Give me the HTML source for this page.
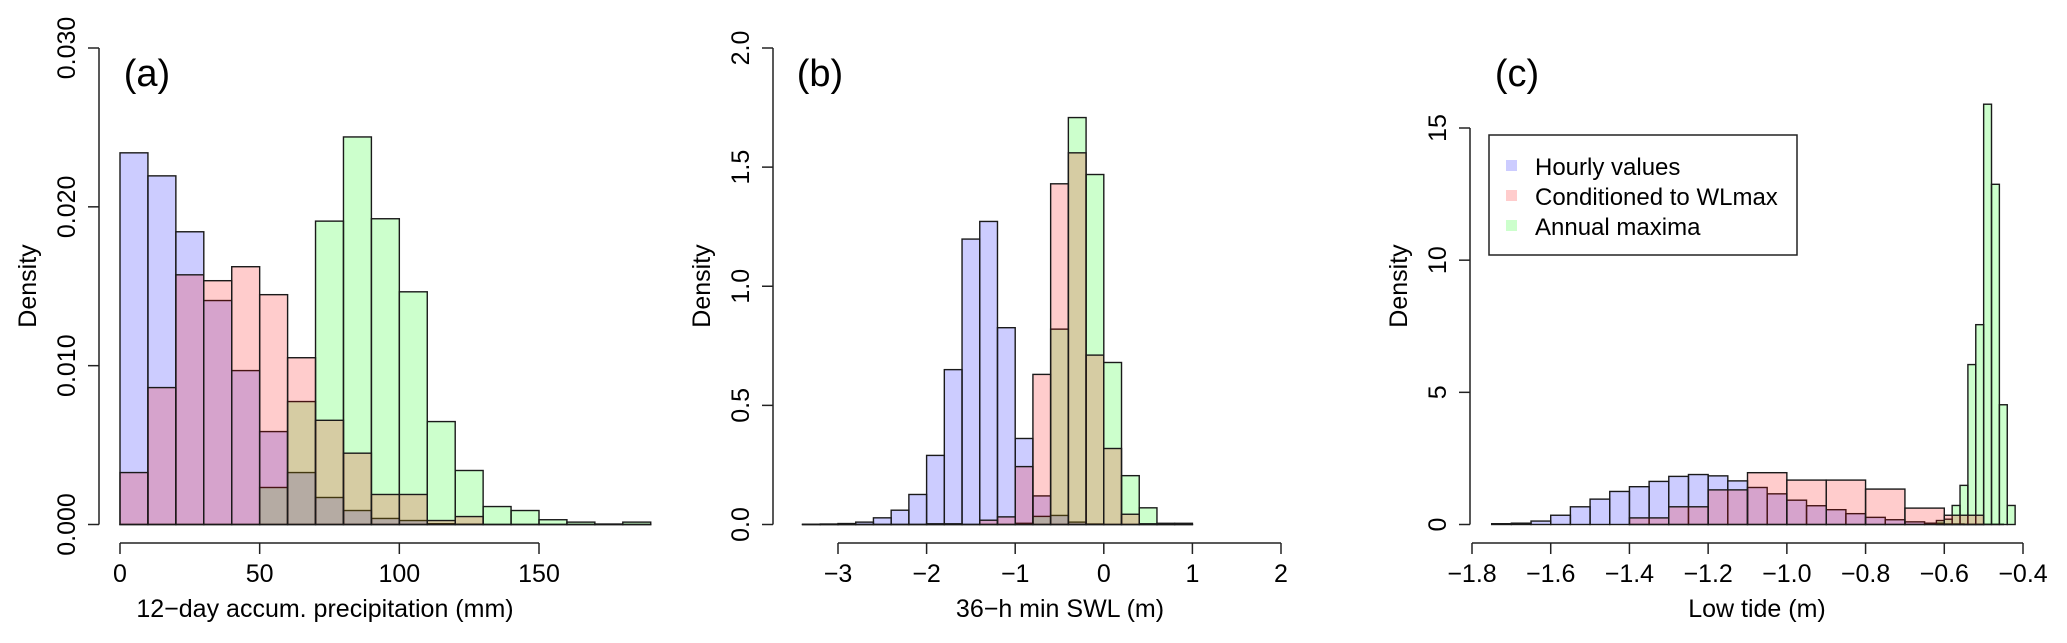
<!DOCTYPE html>
<html>
<head>
<meta charset="utf-8">
<style>
  html,body{margin:0;padding:0;background:#fff;}
  svg{display:block;font-family:"Liberation Sans",Arial,sans-serif;}
</style>
</head>
<body>
<svg id="fig" width="2067" height="643" viewBox="0 0 2067 643" xmlns="http://www.w3.org/2000/svg"></svg>
<script>
// ---------- Panel (a) data: 12-day accumulated precipitation ----------
const binsA = [0,10,20,30,40,50,60,70,80,90,100,110,120,130,140,150,160,170,180];
const binWidthA = 10;
const hourlyA = [0.0234,0.02195,0.01843,0.0141,0.00969,0.00585,0.00327,0.0017,0.00088,0.00038,0.00025,0.00005,0.00002,0,0,0,0,0,0];
const condA = [0.00327,0.00862,0.01572,0.01535,0.01623,0.01447,0.0105,0.00656,0.00449,0.00189,0.00189,0.00025,0.0005,0,0,0,0,0,0];
const annualA = [0,0,0,0,0,0.00233,0.00774,0.0191,0.0244,0.01925,0.01465,0.00648,0.0034,0.00113,0.00088,0.0003,0.00015,0.00003,0.00015];
const xTicksA = [0,50,100,150];
const yTicksA = [0,0.01,0.02,0.03];
const yLabelsA = ["0.000","0.010","0.020","0.030"];

// ---------- Panel (b) data: 36-h min SWL ----------
const binsB = [-3.4,-3.2,-3.0,-2.8,-2.6,-2.4,-2.2,-2.0,-1.8,-1.6,-1.4,-1.2,-1.0,-0.8,-0.6,-0.4,-0.2,0.0,0.2,0.4,0.6,0.8];
const binWidthB = 0.2;
const hourlyB = [0.001,0.002,0.004,0.01,0.028,0.06,0.126,0.29,0.65,1.198,1.272,0.826,0.361,0.12,0.038,0.01,0.002,0,0,0,0,0];
const condB = [0,0,0,0,0,0,0,0.003,0.003,0,0.018,0.032,0.243,0.63,1.43,1.56,0.711,0.319,0.043,0.003,0,0];
const annualB = [0,0,0,0,0,0,0,0,0,0,0,0,0.005,0.034,0.82,1.708,1.469,0.68,0.205,0.07,0.005,0.005];
const xTicksB = [-3,-2,-1,0,1,2];
const yTicksB = [0,0.5,1.0,1.5,2.0];
const yLabelsB = ["0.0","0.5","1.0","1.5","2.0"];

// ---------- Panel (c) data: Low tide ----------
const binsC1 = [-1.75,-1.70,-1.65,-1.60,-1.55,-1.50,-1.45,-1.40,-1.35,-1.30,-1.25,-1.20,-1.15,-1.10,-1.05,-1.00,-0.95,-0.90,-0.85,-0.80,-0.75,-0.70,-0.65,-0.60,-0.55,-0.50];
const binWidthC1 = 0.05;
const hourlyC = [0.03,0.05,0.13,0.35,0.67,0.96,1.25,1.43,1.63,1.82,1.89,1.84,1.65,1.40,1.16,0.92,0.71,0.56,0.41,0.27,0.18,0.10,0.05,0.02,0.01,0.01];
const binsC2 = [-1.4,-1.3,-1.2,-1.1,-1.0,-0.9,-0.8,-0.7,-0.6];
const binWidthC2 = 0.1;
const condC = [0.25,0.67,1.31,1.96,1.68,1.68,1.34,0.62,0.35];
const binsC3 = [-0.62,-0.60,-0.58,-0.56,-0.54,-0.52,-0.50,-0.48,-0.46,-0.44];
const binWidthC3 = 0.02;
const annualC = [0.15,0.2,0.72,1.48,6.05,7.56,15.9,12.87,4.53,0.72];
const xTicksC = [-1.8,-1.6,-1.4,-1.2,-1.0,-0.8,-0.6,-0.4];
const xLabelsC = ["\u22121.8","\u22121.6","\u22121.4","\u22121.2","\u22121.0","\u22120.8","\u22120.6","\u22120.4"];
const yTicksC = [0,5,10,15];
const yLabelsC = ["0","5","10","15"];

const legendLabels = ["Hourly values","Conditioned to WLmax","Annual maxima"];
const FILL = {hourly:"rgba(0,0,255,0.2)", conditioned:"rgba(255,0,0,0.2)", annual:"rgba(0,255,0,0.2)"};
const legendFills = [FILL.hourly, FILL.conditioned, FILL.annual];

const NS = "http://www.w3.org/2000/svg";
const svg = document.getElementById('fig');
function mk(tag, attrs, parent){
  const e = document.createElementNS(NS, tag);
  for (const k in attrs) e.setAttribute(k, attrs[k]);
  (parent||svg).appendChild(e);
  return e;
}
function linear(d0,d1,r0,r1){ return v => r0 + (v-d0)*(r1-r0)/(d1-d0); }

const Y0 = 524.5;
const XAXIS_Y = 543;

function drawPanel(p){
  const g = mk('g', {});
  
  
  const xs = linear(p.xd[0], p.xd[1], p.xr[0], p.xr[1]);
  const ys = linear(0, p.ymax, Y0, 48);
  p.series.forEach((s) => {
    const sg = mk('g', {}, g);
    
    
    s.vals.forEach((v, i) => {
      const x0 = xs(s.bins[i]), x1 = xs(s.bins[i] + s.w);
      const yt = ys(v);
      const r = mk('rect', {x:x0, y:yt, width:x1-x0, height:Math.max(Y0-yt,0.01),
        fill:FILL[s.key], stroke:'#1a1a1a', 'stroke-width':1.4}, sg);
      
      
    });
  });
  const ya = mk('g', {}, g);
  
  
  mk('line', {x1:p.yax, x2:p.yax, y1:ys(p.yTicks[0]), y2:ys(p.yTicks[p.yTicks.length-1]), stroke:'#222', 'stroke-width':1.5}, ya);
  p.yTicks.forEach((t, i) => {
    const y = ys(t);
    mk('line', {x1:p.yax-11, x2:p.yax, y1:y, y2:y, stroke:'#222', 'stroke-width':1.5}, ya);
    const tx = mk('text', {x:0, y:0, 'font-size':25, 'text-anchor':'middle', transform:`translate(${p.yax-24},${y}) rotate(-90)`, fill:'#000'}, ya);
    
    
    tx.textContent = p.yLabels[i];
  });
  const yt = mk('text', {x:0, y:0, 'font-size':25, 'text-anchor':'middle', transform:`translate(${p.yax-63},286) rotate(-90)`, fill:'#000'}, g);
  
  
  yt.textContent = 'Density';
  const xa = mk('g', {}, g);
  
  
  mk('line', {x1:xs(p.xTicks[0]), x2:xs(p.xTicks[p.xTicks.length-1]), y1:XAXIS_Y, y2:XAXIS_Y, stroke:'#222', 'stroke-width':1.5}, xa);
  p.xTicks.forEach((t, i) => {
    const x = xs(t);
    mk('line', {x1:x, x2:x, y1:XAXIS_Y, y2:XAXIS_Y+11, stroke:'#222', 'stroke-width':1.5}, xa);
    const tx = mk('text', {x:x, y:582, 'font-size':25, 'text-anchor':'middle', fill:'#000'}, xa);
    
    
    tx.textContent = p.xLabels ? p.xLabels[i] : String(t).replace('-', '\u2212');
  });
  const xt = mk('text', {x:p.xTitleX, y:617, 'font-size':25, 'text-anchor':'middle', fill:'#000'}, g);
  
  
  xt.textContent = p.xTitle;
  const tag = mk('text', {x:p.tagX, y:86, 'font-size':38, 'text-anchor':'middle', fill:'#000'}, g);
  
  
  tag.textContent = p.tag;
}

drawPanel({id:'panel-a', name:'panel-a-precipitation', xd:[0,150], xr:[120,539], ymax:0.03, yax:99,
  series:[{key:'hourly', bins:binsA, w:binWidthA, vals:hourlyA},{key:'annual', bins:binsA, w:binWidthA, vals:annualA},{key:'conditioned', bins:binsA, w:binWidthA, vals:condA}],
  xTicks:xTicksA, yTicks:yTicksA, yLabels:yLabelsA, xTitle:'12\u2212day accum. precipitation (mm)', xTitleX:325, tag:'(a)', tagX:147});

drawPanel({id:'panel-b', name:'panel-b-swl', xd:[-3,2], xr:[838,1281], ymax:2.0, yax:773,
  series:[{key:'hourly', bins:binsB, w:binWidthB, vals:hourlyB},{key:'annual', bins:binsB, w:binWidthB, vals:annualB},{key:'conditioned', bins:binsB, w:binWidthB, vals:condB}],
  xTicks:xTicksB, yTicks:yTicksB, yLabels:yLabelsB, xTitle:'36\u2212h min SWL (m)', xTitleX:1060, tag:'(b)', tagX:820});

drawPanel({id:'panel-c', name:'panel-c-low-tide', xd:[-1.8,-0.4], xr:[1472,2023], ymax:15*(524.5-48)/(524.5-128), yax:1470,
  series:[{key:'hourly', bins:binsC1, w:binWidthC1, vals:hourlyC},{key:'annual', bins:binsC3, w:binWidthC3, vals:annualC},{key:'conditioned', bins:binsC2, w:binWidthC2, vals:condC}],
  xTicks:xTicksC, xLabels:xLabelsC, yTicks:yTicksC, yLabels:yLabelsC, xTitle:'Low tide (m)', xTitleX:1757, tag:'(c)', tagX:1517});

const lg = mk('g', {});


mk('rect', {x:1489, y:135, width:308, height:120, fill:'#fff', stroke:'#222', 'stroke-width':1.5}, lg);
legendLabels.forEach((lab, i) => {
  const cy = 166 + i*30;
  const e = mk('g', {}, lg);
  
  
  mk('rect', {x:1506, y:cy-6, width:11, height:11, fill:legendFills[i]}, e);
  const t = mk('text', {x:1535, y:cy+9, 'font-size':24, fill:'#000'}, e);
  t.textContent = lab;
});
</script>
</body>
</html>
